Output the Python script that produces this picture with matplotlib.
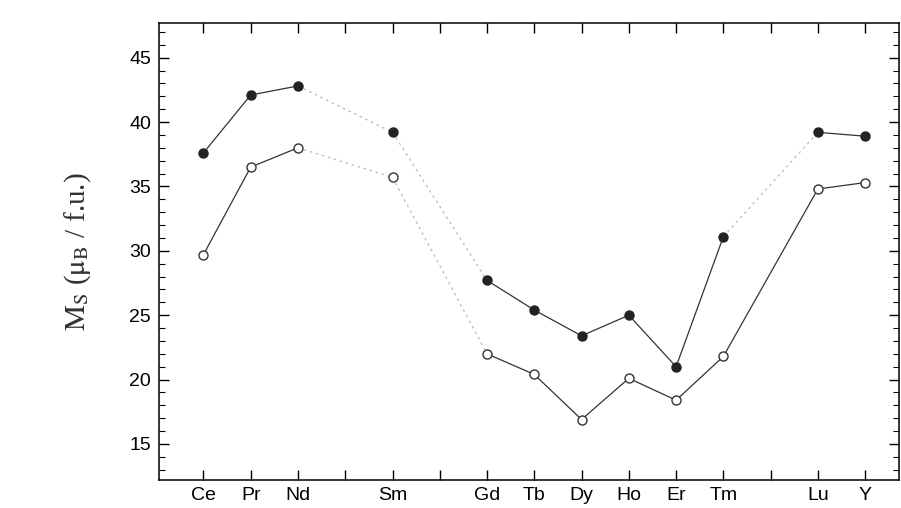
import matplotlib.pyplot as plt
from matplotlib.ticker import MultipleLocator

plt.rcParams['mathtext.fontset'] = 'stix'

# x positions are the rare-earth slots, including the empty Pm, Eu and Yb places
slots = ["Ce", "Pr", "Nd", "", "Sm", "", "Gd", "Tb", "Dy", "Ho", "Er", "Tm", "", "Lu", "Y"]
elements = ["Ce", "Pr", "Nd", "Sm", "Gd", "Tb", "Dy", "Ho", "Er", "Tm", "Lu", "Y"]
filled_vals = [37.6, 42.1, 42.8, 39.2, 27.7, 25.4, 23.4, 25.0, 21.0, 31.1, 39.2, 38.9]
open_vals = [29.7, 36.5, 38.0, 35.7, 22.0, 20.4, 16.9, 20.1, 18.4, 21.8, 34.8, 35.3]

xpos = [slots.index(e) for e in elements]

fig = plt.figure(figsize=(9.01, 5.08), dpi=100)
ax = fig.add_axes([0.177, 0.055, 0.821, 0.90])

def seg(vals, i, j, solid=True):
    xs = xpos[i:j + 1]
    ys = vals[i:j + 1]
    if solid:
        ax.plot(xs, ys, color="#333333", lw=0.9, zorder=2)
    else:
        ax.plot(xs, ys, color="#b8b8b8", lw=0.9, ls=(0, (2, 3)), zorder=1)

# filled series
seg(filled_vals, 0, 2)
seg(filled_vals, 2, 3, False)
seg(filled_vals, 3, 4, False)
seg(filled_vals, 4, 9)
seg(filled_vals, 9, 10, False)
seg(filled_vals, 10, 11)
# open series
seg(open_vals, 0, 2)
seg(open_vals, 2, 3, False)
seg(open_vals, 3, 4, False)
seg(open_vals, 4, 11)

ax.plot(xpos, filled_vals, "o", ms=6.5, mfc="#222222", mec="#222222", ls="none", zorder=3)
ax.plot(xpos, open_vals, "o", ms=6.5, mfc="white", mec="#333333", mew=1.0, ls="none", zorder=3)

ax.set_xlim(-0.93, 14.72)
ax.set_ylim(12.2, 47.7)
ax.set_xticks(range(len(slots)))
ax.set_xticklabels(slots, fontfamily="Liberation Sans", fontsize=14)
ax.yaxis.set_minor_locator(MultipleLocator(1))
ax.set_yticks([15, 20, 25, 30, 35, 40, 45])
for lab in ax.get_yticklabels():
    lab.set_fontfamily("Liberation Sans")
    lab.set_fontsize(14)

ax.tick_params(axis="both", which="both", direction="in", top=True, right=True)
ax.tick_params(axis="both", which="major", length=7, width=1)
ax.tick_params(axis="y", which="minor", length=4, width=0.8)
ax.tick_params(axis="x", pad=5)
ax.tick_params(axis="y", pad=6)
for s in ax.spines.values():
    s.set_linewidth(1.1)

ax.set_ylabel(r"$\mathrm{M_S}$ ($\mathrm{\mu_B}$ / f.u.)", fontfamily="Liberation Serif",
              fontsize=21, labelpad=26, color="#333333")

fig.savefig("out.png", dpi=100)
